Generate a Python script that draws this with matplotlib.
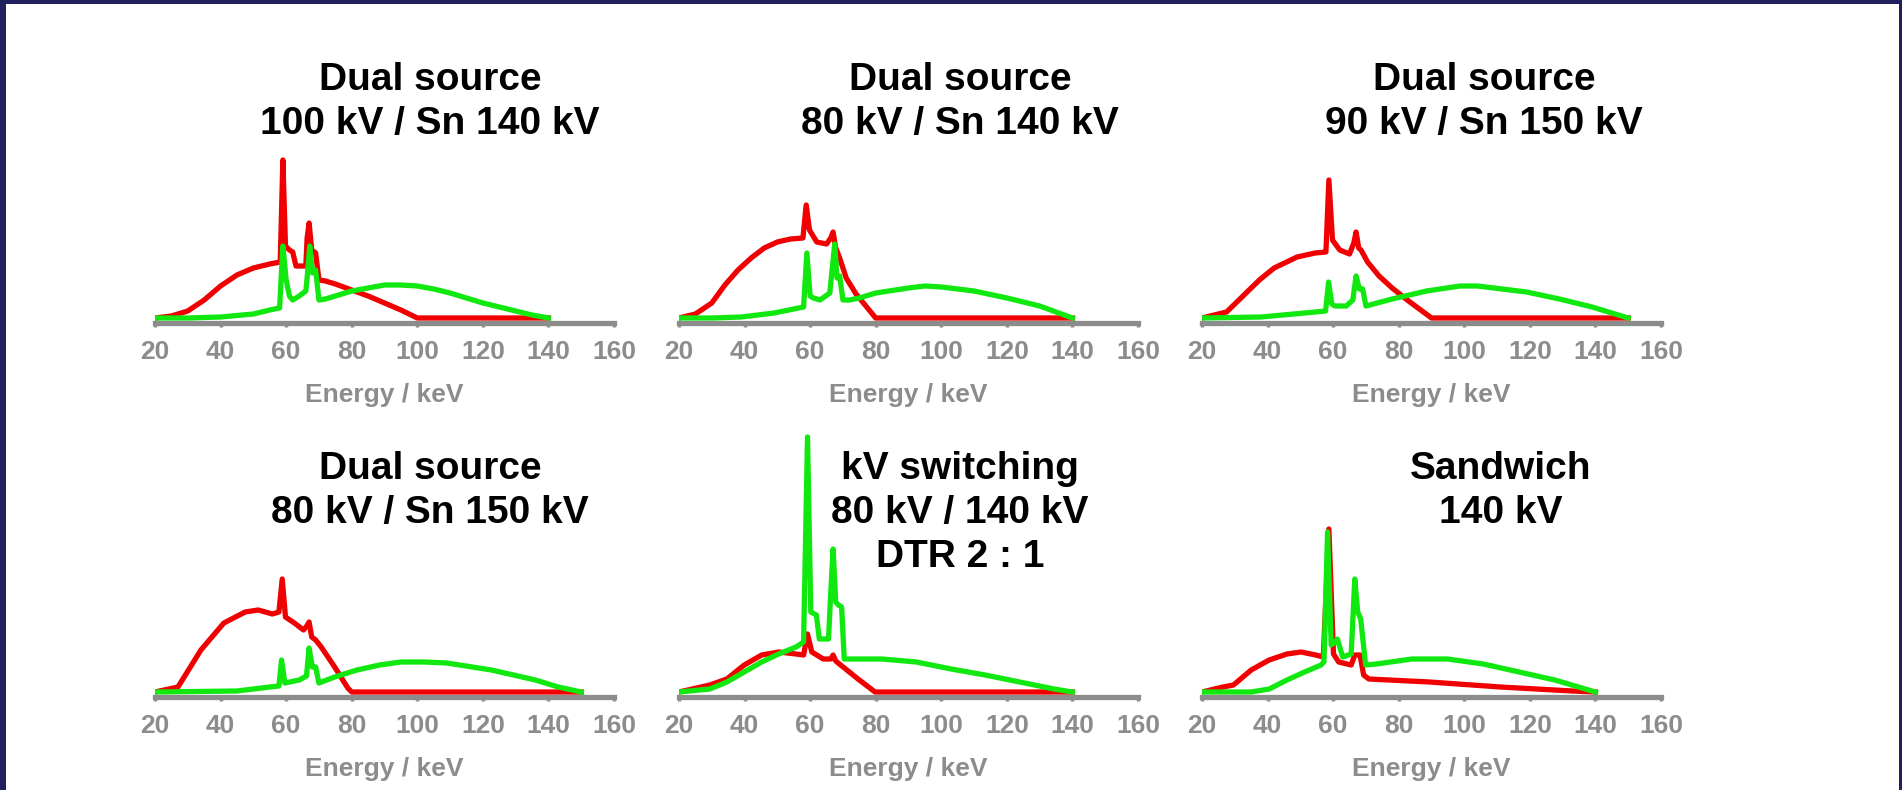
import matplotlib
matplotlib.use("Agg")
import matplotlib.pyplot as plt
from matplotlib.patches import Rectangle

plt.rcParams['font.family'] = ['Liberation Sans', 'DejaVu Sans']

# energies (keV) and relative intensity
# panel 1: dual source 100 kV / Sn 140 kV
e_red1 = [20, 25, 30, 35, 40, 45, 50, 55, 58.2, 59, 59.8, 61, 62, 63, 66, 66.4, 67, 67.8, 69, 70, 72, 75, 80, 85, 90, 95, 100, 140]
red1 = [0, 2, 7, 18, 32, 43, 50, 54, 56, 158, 72, 68, 66, 52, 52, 80, 95, 68, 65, 38, 37, 34, 28, 22, 15, 8, 0, 0]
e_green1 = [20, 30, 40, 50, 55, 58, 59, 60, 61, 62, 64, 66, 66.4, 67.2, 68, 69, 70, 72, 75, 80, 85, 90, 95, 100, 105, 110, 115, 120, 125, 130, 135, 140]
green1 = [0, 0, 1, 4, 8, 10, 72, 38, 22, 18, 22, 27, 40, 72, 45, 48, 18, 19, 22, 27, 30, 33, 33, 32, 29, 25, 20, 15, 11, 7, 3, 0]

# panel 2: dual source 80 kV / Sn 140 kV
e_red2 = [20, 25, 30, 34, 38, 42, 46, 50, 54, 57.8, 58.8, 59.8, 62, 65, 66.3, 67, 67.8, 69, 71, 74, 77, 80, 140]
red2 = [0, 4, 15, 33, 48, 60, 70, 76, 79, 80, 113, 88, 76, 74, 80, 86, 70, 60, 40, 24, 12, 0, 0]
e_green2 = [20, 30, 39, 49, 55, 58, 59, 60, 61, 63, 66, 66.6, 67.5, 68.2, 69, 70, 72, 75, 80, 90, 95, 100, 110, 120, 130, 140]
green2 = [0, 0, 1, 5, 9, 11, 65, 22, 20, 18, 25, 45, 74, 40, 42, 18, 18, 20, 25, 30, 32, 31, 27, 20, 12, 0]

# panel 3: dual source 90 kV / Sn 150 kV
e_red3 = [20, 27.5, 32.5, 37.5, 42, 49, 54.5, 57.8, 58.7, 59.8, 62, 65, 66.3, 67, 67.8, 68.5, 70.5, 74, 78, 83, 90, 150]
red3 = [0, 6, 22, 38, 50, 61, 65, 66, 138, 78, 68, 64, 75, 86, 70, 68, 56, 42, 30, 17, 0, 0]
e_green3 = [20, 38, 48, 57.7, 58.6, 59.6, 60.5, 64, 66, 67, 68, 69, 70, 78, 88.5, 98.7, 104, 119, 129, 139, 150]
green3 = [0, 1, 4, 7, 36, 14, 12, 12, 18, 42, 29, 29, 12, 19, 27, 32, 32, 26, 19, 11, 0]

# panel 4: dual source 80 kV / Sn 150 kV
e_red4 = [20, 27, 34, 41, 47.5, 51.5, 55.8, 57.8, 58.8, 59.8, 62.5, 65.3, 66.3, 67, 67.8, 69, 70.7, 74.8, 78.8, 80, 150]
red4 = [0, 5, 42, 69, 80, 82, 78, 80, 113, 75, 69, 62, 66, 70, 55, 52, 45, 25, 4, 0, 0]
e_green4 = [20, 45, 55, 57.8, 58.6, 59.6, 64, 66.2, 67, 68, 69, 70, 74.8, 81.6, 88.5, 95, 102, 109, 122.6, 136, 143, 150]
green4 = [0, 1, 5, 6, 32, 9, 12, 16, 44, 25, 25, 9, 15, 22, 27, 30, 30, 29, 22, 12, 5, 0]

# panel 5: kV switching 80 kV / 140 kV
e_red5 = [20, 29.4, 34.6, 39.9, 45.2, 50.4, 55.7, 58, 59.2, 60.5, 64, 66.3, 67, 67.8, 69.3, 74.6, 79.8, 140]
red5 = [0, 7, 13, 27, 37, 40, 38, 37, 58, 40, 33, 33, 37, 31, 27, 13, 0, 0]
e_green5 = [20, 29.4, 34.6, 39.9, 45.2, 50.4, 55.7, 58, 59.2, 60.2, 61.9, 62.8, 65.6, 66.3, 67, 67.8, 68.6, 69.6, 70.4, 81.9, 92.4, 103, 113.4, 123.9, 134.4, 140]
green5 = [0, 3, 10, 20, 30, 38, 45, 50, 255, 80, 77, 53, 53, 100, 143, 90, 87, 85, 33, 33, 30, 23, 17, 10, 3, 0]

# panel 6: sandwich 140 kV
e_red6 = [20, 26.4, 29.6, 35, 40.5, 45.9, 50.2, 54.7, 57, 58.7, 60.1, 61.7, 65.5, 66.6, 68.2, 69.3, 70.9, 89.4, 111, 133, 140]
red6 = [0, 5, 7, 22, 32, 38, 40, 37, 35, 163, 38, 30, 27, 37, 37, 17, 13, 10, 5, 1, 0]
e_green6 = [20, 35, 40.5, 45.9, 51.3, 56.3, 57.2, 58.3, 59.4, 60.6, 61.3, 62.9, 65.5, 66.6, 67.5, 68.4, 69.9, 73.2, 84, 94.9, 105.8, 116.7, 127.6, 140]
green6 = [0, 0, 3, 12, 20, 27, 30, 160, 47, 50, 53, 35, 38, 113, 80, 73, 27, 28, 33, 33, 28, 20, 12, 0]

titles = ['Dual source\n100 kV / Sn 140 kV',
          'Dual source\n80 kV / Sn 140 kV',
          'Dual source\n90 kV / Sn 150 kV',
          'Dual source\n80 kV / Sn 150 kV',
          'kV switching\n80 kV / 140 kV\nDTR 2 : 1',
          'Sandwich\n140 kV']
xticks = [20, 40, 60, 80, 100, 120, 140, 160]

panels = [(e_red1, red1, e_green1, green1),
          (e_red2, red2, e_green2, green2),
          (e_red3, red3, e_green3, green3),
          (e_red4, red4, e_green4, green4),
          (e_red5, red5, e_green5, green5),
          (e_red6, red6, e_green6, green6)]

W, H = 1902, 790
navy = '#20205f'
grey = '#8c8c8c'
RED = '#f00000'
GREEN = '#10e810'

fig = plt.figure(figsize=(W / 100, H / 100), dpi=100, facecolor=navy)
# white panel inside the navy frame, kept behind the axes
fig.patches.append(Rectangle((6 / W, 0), (1899 - 6) / W, (H - 4) / H,
                             transform=fig.transFigure, facecolor='white',
                             edgecolor='none', zorder=-10))

lefts = [155, 679, 1202]
spine_y = [323, 697]          # px from top
ax_h = [170, 270]             # px, 1 data unit = 1 px
title_x = [430, 960, 1484, 430, 960, 1501]
title_y0 = [80, 469]
line_gap = 44

for i, (er, r, eg, g) in enumerate(panels):
    row, col = divmod(i, 3)
    left = lefts[col]
    bottom = H - spine_y[row]
    ax = fig.add_axes([left / W, bottom / H, 459 / W, ax_h[row] / H])
    ax.set_zorder(2)
    ax.set_facecolor('none')
    ax.plot(er, r, color=RED, lw=3.8, solid_joinstyle='round', zorder=3)
    ax.plot(eg, g, color=GREEN, lw=3.8, solid_joinstyle='round', zorder=4)
    ax.set_xlim(20, 160)
    ax.set_ylim(-5, ax_h[row] - 5)
    for s in ['top', 'left', 'right']:
        ax.spines[s].set_visible(False)
    ax.spines['bottom'].set_color(grey)
    ax.spines['bottom'].set_linewidth(3.8)
    ax.spines['bottom'].set_zorder(1)
    ax.set_yticks([])
    ax.set_xticks(xticks)
    ax.tick_params(axis='x', colors=grey, length=3, width=2.5, labelsize=19, pad=9)
    for lbl in ax.get_xticklabels():
        lbl.set_fontweight('bold')
    ax.set_xlabel('Energy / keV', fontsize=19, color=grey, fontweight='bold', labelpad=14)

    for k, line in enumerate(titles[i].split('\n')):
        y = title_y0[row] + k * line_gap
        fig.text(title_x[i] / W, 1 - y / H, line, ha='center', va='center',
                 fontsize=28, fontweight='bold', color='black', zorder=3)

fig.savefig('out.png', dpi=100, facecolor=navy)
